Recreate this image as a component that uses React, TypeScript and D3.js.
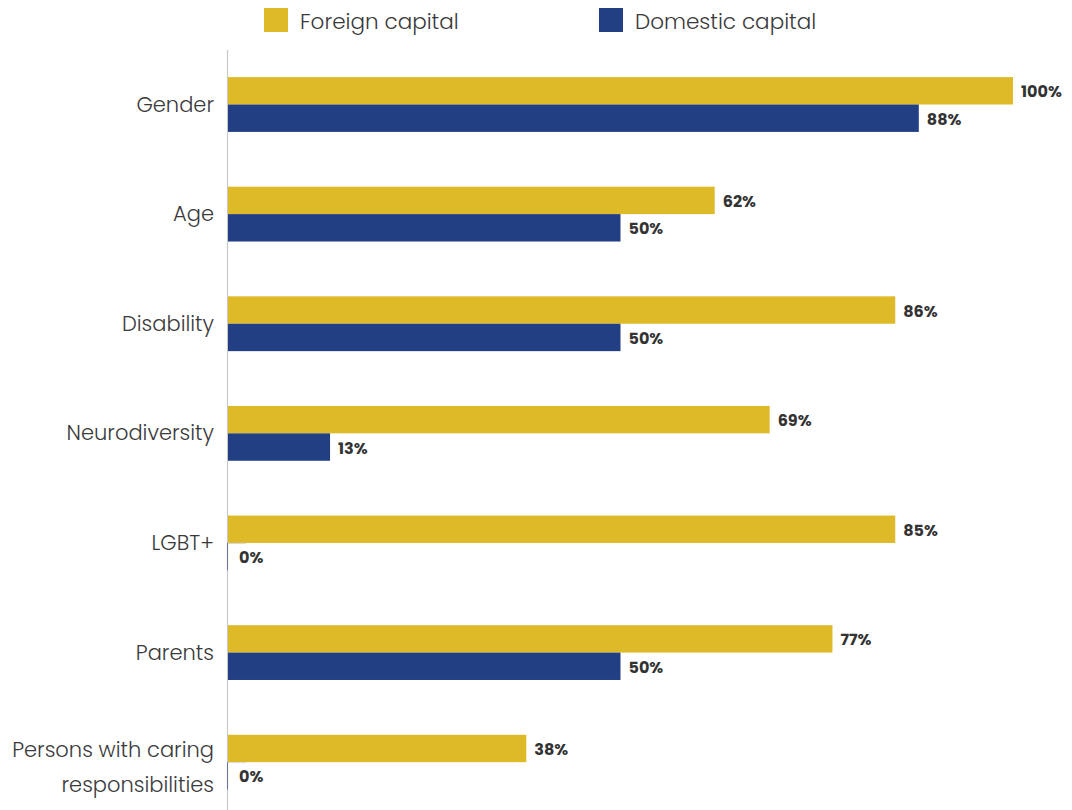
import React from "react";
import * as d3 from "d3";

const categories = [
  ["Gender"],
  ["Age"],
  ["Disability"],
  ["Neurodiversity"],
  ["LGBT+"],
  ["Parents"],
  ["Persons with caring", "responsibilities"],
];
const seriesNames = ["Foreign capital", "Domestic capital"];
const foreignValues = [100, 62, 85, 69, 85, 77, 38];
const foreignLabels = ["100%", "62%", "86%", "69%", "85%", "77%", "38%"];
const domesticValues = [88, 50, 50, 13, 0, 50, 0];
const domesticLabels = ["88%", "50%", "50%", "13%", "0%", "50%", "0%"];
const colors = ["#DFBA28", "#233F83"];

const W = 1072;
const H = 810;
const FONT = "Poppins, 'Open Sans', 'Noto Sans', sans-serif";

export default function App() {
  const keys = categories.map((c) => c.join(" "));
  const x = d3.scaleLinear().domain([0, 100]).range([228, 1013]);
  const y = d3
    .scaleBand<string>()
    .domain(keys)
    .range([49.7, 817])
    .paddingInner(0.5)
    .paddingOuter(0.25);
  const sub = d3
    .scaleBand<number>()
    .domain([0, 1])
    .range([0, y.bandwidth()]);
  const series = [foreignValues, domesticValues];
  const labels = [foreignLabels, domesticLabels];

  return (
    <svg
      width={W}
      height={H}
      style={{ position: "absolute", left: 0, top: 0, background: "#fff" }}
    >
      {/* legend */}
      {seriesNames.map((name, i) => {
        const lx = i === 0 ? 264 : 599;
        return (
          <g key={name}>
            <rect x={lx} y={8} width={24} height={24} fill={colors[i]} />
            <text
              x={lx + 36}
              y={29}
              fontFamily={FONT}
              fontSize={21.5}
              fontWeight={300}
              fill="#3a3a3a"
            >
              {name}
            </text>
          </g>
        );
      })}

      {/* axis line */}
      <line x1={227.5} x2={227.5} y1={50} y2={H} stroke="#c8c8c8" strokeWidth={1.2} />

      {keys.map((k, ci) => {
        const y0 = y(k)!;
        const center = y0 + y.bandwidth() / 2;
        const lines = categories[ci];
        return (
          <g key={k}>
            {series.map((vals, si) => {
              const v = vals[ci];
              const by = y0 + sub(si)!;
              const bh = sub.bandwidth();
              const bx = x(0);
              const bw = x(v) - x(0);
              const lx = v === 0 ? bx + 11 : x(v) + 8;
              return (
                <g key={si}>
                  {v > 0 ? (
                    <rect x={bx} y={by} width={bw} height={bh} fill={colors[si]} />
                  ) : (
                    <>
                      <line x1={bx} x2={bx + 18} y1={by + 0.5} y2={by + 0.5} stroke="#d8d8d8" strokeWidth={1} />
                      <line x1={bx - 0.5} x2={bx - 0.5} y1={by} y2={by + bh} stroke={colors[si]} strokeWidth={1} opacity={0.6} />
                    </>
                  )}
                  <text
                    x={lx}
                    y={by + bh / 2 + 6.5}
                    fontFamily={FONT}
                    fontSize={16}
                    fontWeight={700}
                    fill="#333"
                  >
                    {labels[si][ci]}
                  </text>
                </g>
              );
            })}
            {lines.length === 1 ? (
              <text
                x={214}
                y={center + 7}
                textAnchor="end"
                fontFamily={FONT}
                fontSize={21}
                fontWeight={300}
                fill="#3a3a3a"
              >
                {lines[0]}
              </text>
            ) : (
              lines.map((ln, li) => (
                <text
                  key={li}
                  x={214}
                  y={center + 12 + (li - 0.5) * 35}
                  textAnchor="end"
                  fontFamily={FONT}
                  fontSize={21}
                  fontWeight={300}
                  fill="#3a3a3a"
                >
                  {ln}
                </text>
              ))
            )}
          </g>
        );
      })}
    </svg>
  );
}
